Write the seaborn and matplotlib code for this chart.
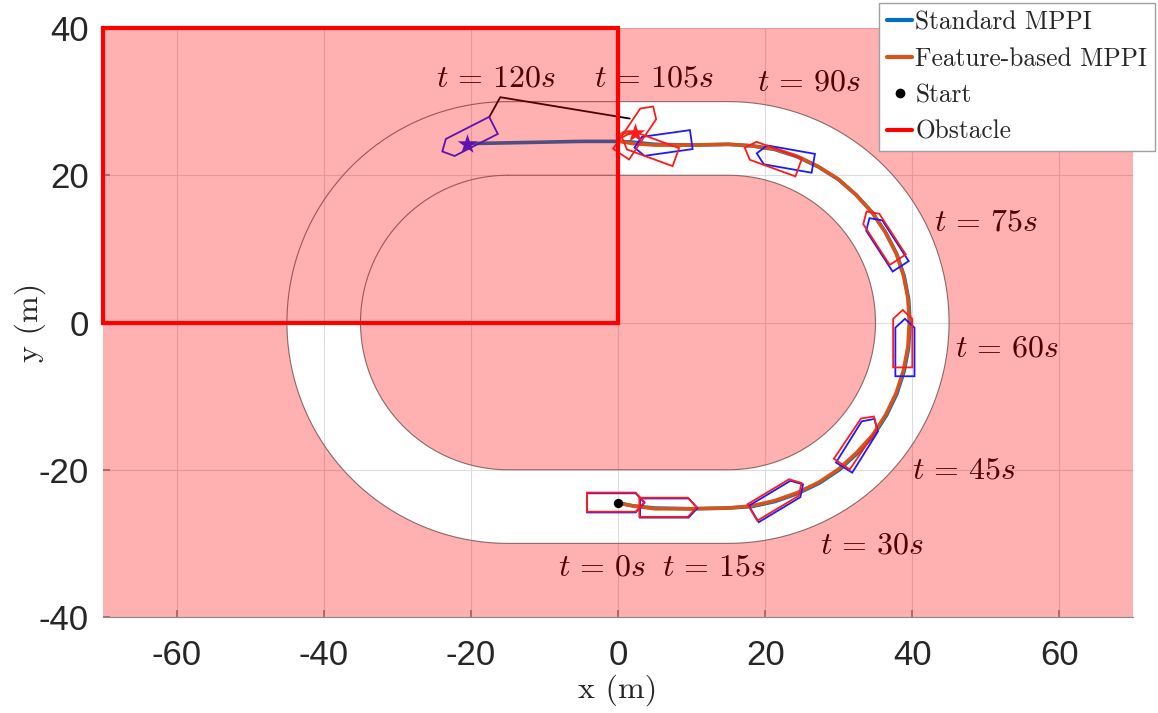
import numpy as np
import matplotlib
matplotlib.use('Agg')
import matplotlib.pyplot as plt
import seaborn as sns
from matplotlib.path import Path
from matplotlib.patches import PathPatch, Rectangle, Polygon
from matplotlib.lines import Line2D

sns.set_theme(style='white')
plt.rcParams['font.family'] = ['DejaVu Sans']
plt.rcParams['mathtext.fontset'] = 'cm'
plt.rcParams['axes.unicode_minus'] = False

# track geometry (m)
R_OUT = 30
R_IN = 20
HALF_STRAIGHT = 15
XLIM = (-70, 70)
YLIM = (-40, 40)

# trajectories
std_x = [0, 2, 5, 10, 15, 18.2, 21.4, 24.5, 27.4, 30.1, 32.5, 34.7, 36.5, 37.9, 38.9, 39.5,
         39.7, 39.5, 38.9, 37.9, 36.4, 34.6, 32.4, 30.0, 27.3, 24.4, 21.3, 18.2, 15,
         10, 5, 2, 0, -5, -10, -15, -20.4]
std_y = [-24.5, -24.9, -25.2, -25.3, -25.2, -25.0, -24.3, -23.2, -21.8, -20.0, -17.8, -15.4,
         -12.6, -9.7, -6.6, -3.4, 0, 3.2, 6.3, 9.3, 12.2, 14.9, 17.3, 19.4, 21.1, 22.5, 23.5,
         24.0, 24.2, 24.1, 24.2, 24.5, 24.6, 24.6, 24.5, 24.4, 24.3]
fb_x = [0, 2, 5, 10, 15, 18.2, 21.3, 24.4, 27.3, 30.0, 32.4, 34.6, 36.4, 37.8, 38.8, 39.4,
        39.6, 39.4, 38.8, 37.8, 36.3, 34.5, 32.3, 29.9, 27.2, 24.3, 21.2, 18.1, 15,
        10, 5, 2, 0.3, 0, 0.8, 2.3]
fb_y = [-24.5, -24.9, -25.3, -25.3, -25.2, -24.9, -24.2, -23.1, -21.7, -19.9, -17.7, -15.3,
        -12.5, -9.6, -6.5, -3.3, 0.1, 3.3, 6.4, 9.4, 12.3, 15.0, 17.4, 19.5, 21.2, 22.6, 23.6,
        24.0, 24.2, 24.1, 24.1, 24.3, 24.6, 25.2, 25.8, 25.7]
start_xy = (0, -24.5)
std_end = (-20.5, 24.3)
fb_end = (2.3, 25.7)

# boat poses: x, y, heading (deg)
std_bx = [-0.3, 6.9, 21.8, 32.8, 39.0, 36.3, 22.7, 6.1, -20.4]
std_by = [-24.5, -25.2, -24.0, -16.4, -3.4, 10.9, 22.3, 24.3, 25.0]
std_bh = [0, 0, 31, 58, 90, 123, 170, 188, 207]
fb_bx = [-0.3, 6.8, 21.6, 32.6, 38.7, 35.9, 20.9, 2.6, 4.2]
fb_by = [-24.4, -25.1, -23.8, -16.0, -2.2, 11.8, 22.4, 26.1, 23.8]
fb_bh = [0, 0, 31, 56, 90, 123, 160, 56, 160]

# time labels
lab_txt = ['0s', '15s', '30s', '45s', '60s', '75s', '90s', '105s', '120s']
lab_x = [-2.2, 13.0, 34.5, 47.0, 52.9, 50.1, 26.0, 4.9, -16.6]
lab_y = [-33.2, -33.2, -30.2, -20.0, -3.4, 13.6, 32.7, 33.2, 33.2]
pointer_x = [-17.5, -16.0, 1.6]
pointer_y = [27.9, 30.6, 27.7]

c_std = (0, 0.447, 0.741)
c_fb = (0.85, 0.325, 0.098)


def stadium(r):
    a1 = np.linspace(np.pi / 2, 3 * np.pi / 2, 80)
    a2 = np.linspace(-np.pi / 2, np.pi / 2, 80)
    left = np.c_[-HALF_STRAIGHT + r * np.cos(a1), r * np.sin(a1)]
    right = np.c_[HALF_STRAIGHT + r * np.cos(a2), r * np.sin(a2)]
    return np.vstack([left, right])


def boat(x, y, hdg, L=7.8, W=2.6, bow=1.2):
    pts = np.array([[-L / 2, -W / 2], [L / 2 - bow, -W / 2], [L / 2, 0],
                    [L / 2 - bow, W / 2], [-L / 2, W / 2]])
    a = np.deg2rad(hdg)
    rot = np.array([[np.cos(a), -np.sin(a)], [np.sin(a), np.cos(a)]])
    return pts @ rot.T + [x, y]


def compound(polys):
    verts, codes = [], []
    for p in polys:
        p = [tuple(v) for v in p]
        verts += p + [p[0]]
        codes += [Path.MOVETO] + [Path.LINETO] * (len(p) - 1) + [Path.CLOSEPOLY]
    return Path(verts, codes)


fig = plt.figure(figsize=(11.58, 7.13), dpi=100)
ax = fig.add_axes([103 / 1158, 1 - 617 / 713, 1030 / 1158, 589 / 713])
ax.set_xlim(XLIM)
ax.set_ylim(YLIM)

ax.grid(True, color='#dcdcdc', lw=0.8)
ax.set_axisbelow(True)

outer = stadium(R_OUT)
inner = stadium(R_IN)
for pts in (outer, inner):
    ax.plot(np.r_[pts[:, 0], pts[0, 0]], np.r_[pts[:, 1], pts[0, 1]], color='#7a7a7a', lw=0.8, zorder=2)

# trajectories
sns.lineplot(x=std_x, y=std_y, sort=False, estimator=None, color=c_std, lw=2.6, ax=ax, zorder=3)
sns.lineplot(x=fb_x, y=fb_y, sort=False, estimator=None, color=c_fb, lw=2.6, ax=ax, zorder=3.1)

# boats
for x, y, h in zip(std_bx, std_by, std_bh):
    ax.add_patch(Polygon(boat(x, y, h), closed=True, fill=False, edgecolor='#1a1aff', lw=1.3, zorder=3.5))
for x, y, h in zip(fb_bx, fb_by, fb_bh):
    ax.add_patch(Polygon(boat(x, y, h), closed=True, fill=False, edgecolor='#ff1a1a', lw=1.3, zorder=3.6))

sns.scatterplot(x=[std_end[0]], y=[std_end[1]], marker='*', s=220, color='#1a1aff', linewidth=0, ax=ax, zorder=3.7)
sns.scatterplot(x=[fb_end[0]], y=[fb_end[1]], marker='*', s=220, color='#ff1a1a', linewidth=0, ax=ax, zorder=3.7)

# time labels and pointer
for t, x, y in zip(lab_txt, lab_x, lab_y):
    ax.text(x, y, r'$t\,=\,%s$' % t, fontsize=23, ha='center', va='center', color='black', zorder=3)
ax.plot(pointer_x, pointer_y, color='black', lw=1.3, zorder=3)

# translucent red: everything off-track plus the obstacle box
a = np.linspace(np.pi / 2, np.pi, 40)
obst_ring = np.vstack([[[0, R_OUT]],
                       np.c_[-HALF_STRAIGHT + R_OUT * np.cos(a), R_OUT * np.sin(a)],
                       np.c_[-HALF_STRAIGHT + R_IN * np.cos(a[::-1]), R_IN * np.sin(a[::-1])],
                       [[0, R_IN]]])
box = np.array([[XLIM[0], YLIM[0]], [XLIM[1], YLIM[0]], [XLIM[1], YLIM[1]], [XLIM[0], YLIM[1]]])
overlay = PathPatch(compound([box, outer[::-1], inner, obst_ring]), facecolor=(1, 0, 0, 0.31),
                    edgecolor='none', lw=0, zorder=4)
ax.add_patch(overlay)

ax.add_patch(Rectangle((-70, 0), 70, 40, fill=False, edgecolor='#ff0000', lw=3, zorder=6, clip_on=False))

sns.scatterplot(x=[start_xy[0]], y=[start_xy[1]], color='black', s=45, linewidth=0, ax=ax, zorder=5)

# axes cosmetics
ax.set_xticks(range(-60, 61, 20))
ax.set_yticks(range(-40, 41, 20))
for s in ('top', 'right', 'left'):
    ax.spines[s].set_visible(False)
ax.spines['bottom'].set_color('#8a8a8a')
ax.spines['bottom'].set_linewidth(0.8)
ax.tick_params(axis='both', direction='in', length=5, color='#8a8a8a', labelcolor='#262626')
ax.tick_params(axis='x', pad=16, bottom=True)
ax.tick_params(axis='y', pad=10, left=True)
for lb in ax.get_xticklabels() + ax.get_yticklabels():
    lb.set_fontfamily('Liberation Sans')
    lb.set_fontsize(25)

fig.text(618 / 1158, 1 - 690 / 713, 'x (m)', family='cmr10', fontsize=23, ha='center', va='center', color='#262626')
fig.text(30 / 1158, 1 - 322 / 713, 'y (m)', family='cmr10', fontsize=23, ha='center', va='center',
         rotation=90, color='#262626')

handles = [Line2D([], [], color=c_std, lw=3),
           Line2D([], [], color=c_fb, lw=3),
           Line2D([], [], color='black', marker='o', ls='none', markersize=6),
           Line2D([], [], color='#ff0000', lw=3)]
labels = ['Standard MPPI', 'Feature-based MPPI', 'Start', 'Obstacle']
leg = ax.legend(handles, labels, loc='upper right', bbox_to_anchor=(1155 / 1158, 710 / 713),
                bbox_transform=fig.transFigure, borderaxespad=0, prop={'family': 'cmr10', 'size': 18.3},
                handlelength=1.0, handletextpad=0.12, labelspacing=0.5, borderpad=0.3,
                fancybox=False, framealpha=1, edgecolor='#a0a0a0')
leg.get_frame().set_linewidth(1.0)
leg.set_zorder(7)

fig.savefig('out.png', dpi=100)
